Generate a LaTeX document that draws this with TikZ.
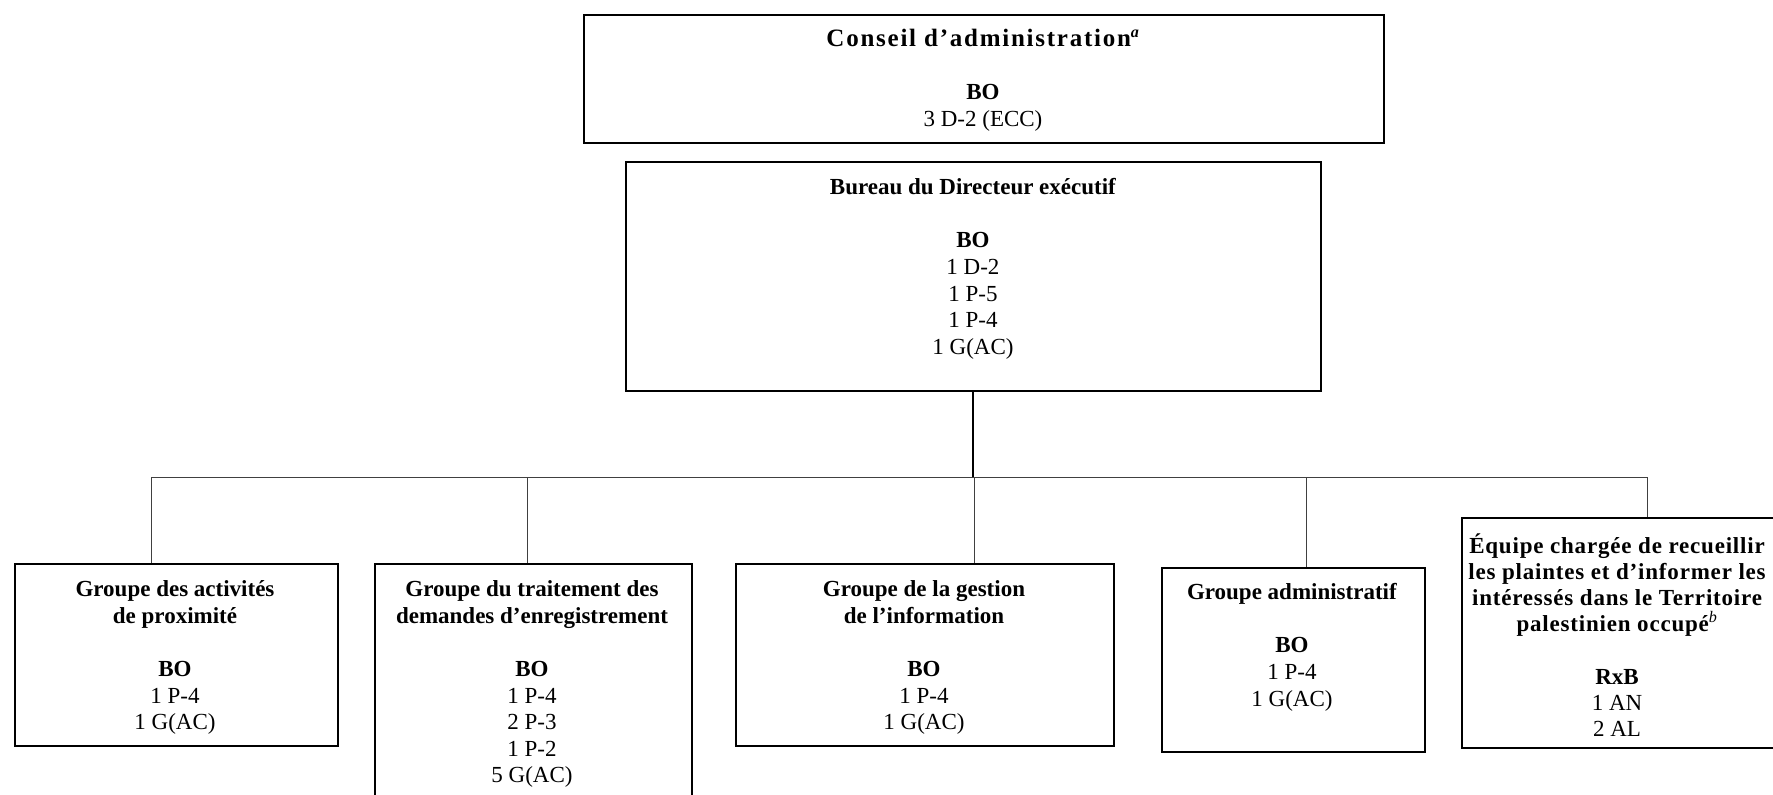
\documentclass[tikz,border=0pt]{standalone}
\usepackage{fontspec}
\setmainfont{Liberation Serif}
\newfontfamily\wideA[LetterSpace=7]{Liberation Serif}
\newfontfamily\wideB[LetterSpace=3.5]{Liberation Serif}
\newcommand\fs{\fontsize{23pt}{26.6pt}\selectfont}
\newcommand\fr{\rule{0pt}{22pt}}
\begin{document}
\begin{tikzpicture}[x=1pt,y=-1pt,
  boxnode/.style={draw=black, line width=1.8pt, anchor=north west, inner sep=0pt, rectangle},
  txt/.style={anchor=north, align=center, inner sep=0pt, font=\fs},
  link/.style={line width=1pt, draw=black!75},
  stem/.style={line width=2pt, draw=black}]
\useasboundingbox (0,0) rectangle (1773,795);
\clip (0,0) rectangle (1773,795);

% boxes
\node[boxnode, minimum width=800pt, minimum height=128pt] (top) at (583,14) {};
\node[boxnode, minimum width=695pt, minimum height=229pt] (bureau) at (625,161) {};
\node[boxnode, minimum width=323pt, minimum height=182pt] (b1) at (14,563) {};
\node[boxnode, minimum width=317pt, minimum height=250pt] (b2) at (374,563) {};
\node[boxnode, minimum width=378pt, minimum height=182pt] (b3) at (735,563) {};
\node[boxnode, minimum width=263pt, minimum height=184pt] (b4) at (1161,567) {};
\node[boxnode, minimum width=330pt, minimum height=230pt] (b5) at (1461,517) {};

% texts
\node[txt] (ttop) at (983,24.5) {\fr{\wideA\bfseries\fontsize{25pt}{26.6pt}\selectfont Conseil d’administration}\textsuperscript{\textbf{\textit{a}}}\\[26.6pt]\textbf{BO}\\3 D-2 (ECC)};
\node[txt] (tbureau) at (973,172.5) {\fr\textbf{Bureau du Directeur exécutif}\\[26.6pt]\textbf{BO}\\1 D-2\\1 P-5\\1 P-4\\1 G(AC)};
\node[txt] (t1) at (175,574.5) {\fr\textbf{Groupe des activités}\\\textbf{de proximité}\\[26.6pt]\textbf{BO}\\1 P-4\\1 G(AC)};
\node[txt] (t2) at (532,574.5) {\fr\textbf{Groupe du traitement des}\\\textbf{demandes d’enregistrement}\\[26.6pt]\textbf{BO}\\1 P-4\\2 P-3\\1 P-2\\5 G(AC)};
\node[txt] (t3) at (924,574.5) {\fr\textbf{Groupe de la gestion}\\\textbf{de l’information}\\[26.6pt]\textbf{BO}\\1 P-4\\1 G(AC)};
\node[txt] (t4) at (1292,577.5) {\fr\textbf{Groupe administratif}\\[26.6pt]\textbf{BO}\\1 P-4\\1 G(AC)};
\node[txt, font=\fontsize{23pt}{26.2pt}\selectfont] (t5) at (1617,531) {\fr{\wideB\bfseries Équipe chargée de recueillir}\\{\wideB\bfseries les plaintes et d’informer les}\\{\wideB\bfseries intéressés dans le Territoire}\\{\wideB\bfseries palestinien occupé}\textsuperscript{\textit{b}}\\[26.2pt]\textbf{RxB}\\1 AN\\2 AL};

% connectors
\coordinate (hub) at (973,477);
\coordinate (j1) at (151,477);
\coordinate (j2) at (527,477);
\coordinate (j3) at (974,477);
\coordinate (j4) at (1306,477);
\coordinate (j5) at (1647,477);
\draw[stem] (bureau.south) -- (bureau.south |- hub);
\draw[link] (j1) -- (j5);
\draw[link] (j1) -- (j1 |- b1.north);
\draw[link] (j2) -- (j2 |- b2.north);
\draw[link] (j3) -- (j3 |- b3.north);
\draw[link] (j4) -- (j4 |- b4.north);
\draw[link] (j5) -- (j5 |- b5.north);
\end{tikzpicture}
\end{document}
